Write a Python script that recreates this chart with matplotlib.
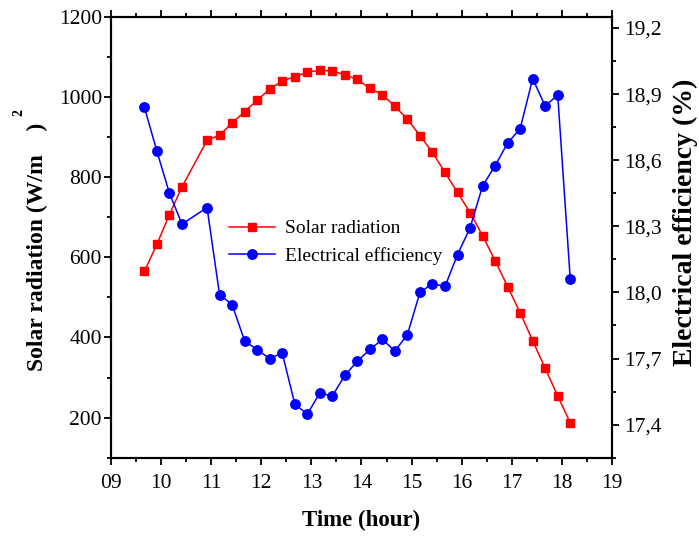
import matplotlib
matplotlib.use("Agg")
import matplotlib.pyplot as plt
from matplotlib.ticker import MultipleLocator, FuncFormatter

plt.rcParams['font.family'] = ['Liberation Serif', 'DejaVu Serif']

# measurement times (hours), one every 15 minutes from 09:40 to 18:10, no 10:40 reading
time_h = [9.667, 9.917, 10.167, 10.417, 10.917, 11.167, 11.417, 11.667, 11.917,
          12.167, 12.417, 12.667, 12.917, 13.167, 13.417, 13.667, 13.917, 14.167,
          14.417, 14.667, 14.917, 15.167, 15.417, 15.667, 15.917, 16.167, 16.417,
          16.667, 16.917, 17.167, 17.417, 17.667, 17.917, 18.167]

# solar radiation, W/m2
radiation = [565, 633, 707, 776, 892, 905, 935, 964, 992, 1020, 1040, 1051, 1062,
             1067, 1065, 1056, 1044, 1022, 1006, 977, 945, 904, 862, 812, 762, 712,
             654, 592, 527, 462, 392, 323, 254, 187]

# electrical efficiency, %
efficiency = [18.84, 18.64, 18.45, 18.31, 18.385, 17.99, 17.945, 17.78, 17.74, 17.70,
              17.725, 17.495, 17.447, 17.543, 17.53, 17.623, 17.688, 17.741, 17.787,
              17.734, 17.809, 18.0, 18.04, 18.027, 18.172, 18.293, 18.483, 18.575,
              18.678, 18.743, 18.97, 18.846, 18.896, 18.06]

xticks = [9, 10, 11, 12, 13, 14, 15, 16, 17, 18, 19]
xtick_labels = ['09', '10', '11', '12', '13', '14', '15', '16', '17', '18', '19']

fig = plt.figure(figsize=(6.99, 5.38), dpi=100)
ax = fig.add_axes([0.1588, 0.1493, 0.7167, 0.8191])
ax2 = ax.twinx()

l1, = ax.plot(time_h, radiation, color='#ff0000', marker='s', markersize=6,
              linewidth=1.1, label='Solar radiation')
l2, = ax2.plot(time_h, efficiency, color='#0000ff', marker='o', markersize=6.8,
               linewidth=1.1, label='Electrical efficiency')

ax.set_xlim(9, 19)
ax.set_ylim(100, 1200)
ax2.set_ylim(17.25, 19.25)

ax.set_xticks(xticks)
ax.set_xticklabels(xtick_labels)
ax.xaxis.set_minor_locator(MultipleLocator(0.5))
ax.yaxis.set_minor_locator(MultipleLocator(100))
ax.set_yticks(range(200, 1201, 200))

ax2.set_yticks([17.4, 17.7, 18.0, 18.3, 18.6, 18.9, 19.2])
ax2.yaxis.set_minor_locator(MultipleLocator(0.15))
ax2.yaxis.set_major_formatter(FuncFormatter(lambda v, p: f"{v:.1f}".replace('.', ',')))

for a in (ax, ax2):
    for s in a.spines.values():
        s.set_linewidth(1.5)
    a.tick_params(which='major', length=5, width=1.3, labelsize=15.5, direction='out')
    a.tick_params(which='minor', length=3, width=1.3, direction='out')
ax.tick_params(axis='x', which='both', top=True)
ax.tick_params(axis='x', which='major', pad=7)
ax.tick_params(axis='y', which='major', pad=1.5)

ax.set_xlabel('Time (hour)', fontsize=16.5, fontweight='bold', labelpad=12)
ax2.set_ylabel('Electrical efficiency (%)', fontsize=20, fontweight='bold')
ax2.yaxis.set_label_coords(1.122, 0.535)

# left label with the detached superscript
fig.text(37 / 699, 1 - 247 / 538, 'Solar radiation (W/m    )', rotation=90,
         fontsize=17, fontweight='bold', ha='center', va='center')
fig.text(19 / 699, 1 - 112 / 538, '2', rotation=90, fontsize=10,
         fontweight='bold', ha='center', va='center')

ax.legend(handles=[l1, l2], loc='upper left', bbox_to_anchor=(0.235, 0.54),
          frameon=False, fontsize=14, handlelength=2.4, handletextpad=0.5,
          labelspacing=0.5, borderaxespad=0, borderpad=0)

fig.savefig('out.png', dpi=100)
